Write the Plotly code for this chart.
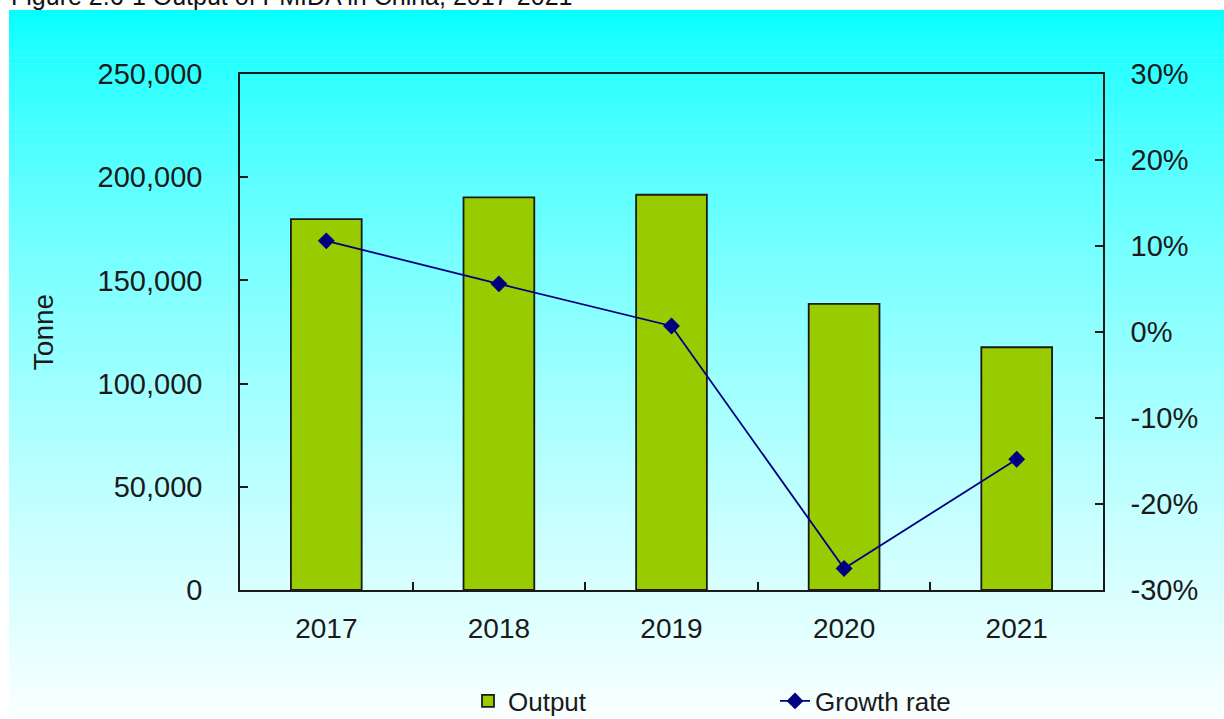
import plotly.graph_objects as go

# ---- data ----
years = ["2017", "2018", "2019", "2020", "2021"]
output_tonne = [179700, 190200, 191500, 138600, 117600]
growth_pct = [10.6, 5.6, 0.7, -27.5, -14.8]
left_tickvals = [0, 50000, 100000, 150000, 200000, 250000]
left_ticktext = ["0", "50,000", "100,000", "150,000", "200,000", "250,000"]
right_tickvals = [-30, -20, -10, 0, 10, 20, 30]
right_ticktext = ["-30%", "-20%", "-10%", "0%", "10%", "20%", "30%"]
title_text = "Figure 2.6-1 Output of PMIDA in China, 2017-2021"

W, H = 1224, 719
L, R, T, B = 240, 121, 74, 129
PW, PH = W - L - R, H - T - B
FONT = "Liberation Sans, Arial, sans-serif"
TXT = "#1a1a1a"


def px2x(px):
    return (px - L) / PW


def py2y(py):
    return (H - B - py) / PH


# background gradient bands (styling)
shapes = []
n = 120
y0p, y1p = 10, H
for i in range(n):
    a = y0p + (y1p - y0p) * i / n
    b = y0p + (y1p - y0p) * (i + 1) / n
    t = (i + 0.5) / n
    r = int(250 * t ** 0.7)
    shapes.append(dict(type="rect", xref="paper", yref="paper",
                       x0=px2x(9), x1=px2x(W + 2), y0=py2y(b + 0.5), y1=py2y(a),
                       fillcolor=f"rgb({r},255,255)", line=dict(width=0),
                       layer="below"))

fig = go.Figure()
fig.add_trace(go.Bar(
    x=years, y=output_tonne, name="Output",
    marker=dict(color="#99CC00", line=dict(color="#1a1a1a", width=1.8)),
    width=0.41, yaxis="y",
))
fig.add_trace(go.Scatter(
    x=years, y=growth_pct, name="Growth rate", mode="lines+markers",
    line=dict(color="#000080", width=1.8),
    marker=dict(symbol="diamond", size=13, color="#000080"),
    yaxis="y2",
))

fig.add_annotation(text=title_text, xref="paper", yref="paper",
                   x=px2x(9), y=py2y(-4), xanchor="left", yanchor="middle",
                   showarrow=False, font=dict(size=25, color="#111", family=FONT))

fig.update_layout(
    width=W, height=H,
    margin=dict(l=L, r=R, t=T, b=B, pad=0, autoexpand=False),
    paper_bgcolor="white", plot_bgcolor="rgba(0,0,0,0)",
    font=dict(family=FONT, color=TXT, size=28),
    shapes=shapes,
    showlegend=True,
    xaxis=dict(type="category", showline=True, linecolor="#1a1a1a", linewidth=1.5,
               mirror=True, ticks="inside", ticklen=8, tickwidth=1.5, tickcolor="#1a1a1a",
               tickson="boundaries", showgrid=False, tickfont=dict(size=28, color=TXT),
               ticklabelstandoff=13),
    yaxis=dict(range=[0, 250000], tickvals=left_tickvals, ticktext=left_ticktext,
               showline=True, linecolor="#1a1a1a", linewidth=1.5, ticks="inside",
               ticklen=8, tickwidth=1.5, tickcolor="#1a1a1a", showgrid=False,
               zeroline=False, tickfont=dict(size=29, color=TXT),
               ticklabelstandoff=30,
               title=dict(text="Tonne", font=dict(size=28, color=TXT), standoff=36)),
    yaxis2=dict(range=[-30, 30], tickvals=right_tickvals, ticktext=right_ticktext,
                overlaying="y", side="right", showline=True, linecolor="#1a1a1a",
                linewidth=1.5, ticks="inside", ticklen=8, tickwidth=1.5,
                tickcolor="#1a1a1a", showgrid=False, zeroline=False,
                tickfont=dict(size=29, color=TXT), ticklabelstandoff=20),
    legend=dict(orientation="h", x=px2x(468), xanchor="left", y=py2y(701),
                yanchor="middle", font=dict(size=26, color=TXT),
                bgcolor="rgba(0,0,0,0)", entrywidth=262, entrywidthmode="pixels"),
)

fig.write_html("out.html", config={"displayModeBar": False},
               post_script="document.body.style.margin='0';document.body.style.padding='0';")
